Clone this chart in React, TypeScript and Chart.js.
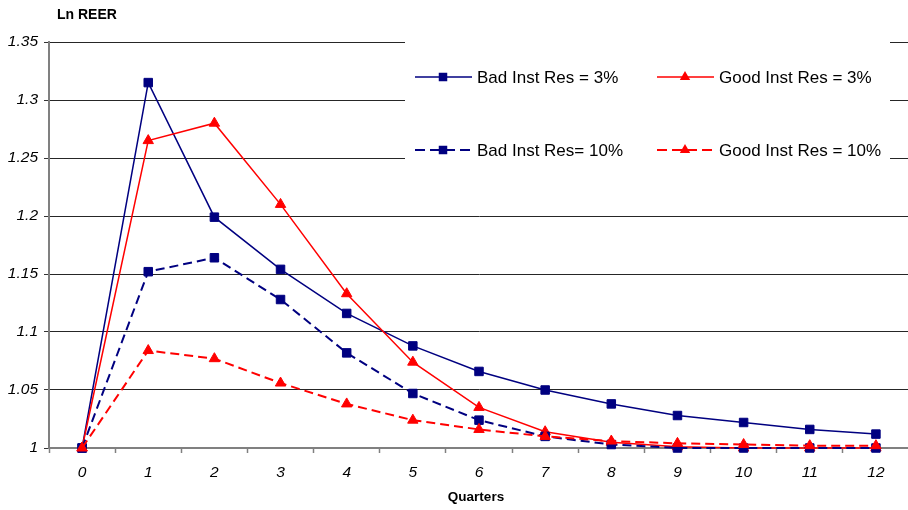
import React, { useEffect, useRef } from 'react';
import { Chart, registerables } from 'chart.js';

Chart.register(...registerables);

const quarters = ['0', '1', '2', '3', '4', '5', '6', '7', '8', '9', '10', '11', '12'];
const badInstRes3 = [1.0, 1.315, 1.199, 1.154, 1.116, 1.088, 1.066, 1.05, 1.038, 1.028, 1.022, 1.016, 1.012];
const goodInstRes3 = [1.0, 1.265, 1.28, 1.21, 1.133, 1.074, 1.035, 1.014, 1.005, 1.001, 1.0, 1.0, 1.0];
const badInstRes10 = [1.0, 1.152, 1.164, 1.128, 1.082, 1.047, 1.024, 1.01, 1.003, 1.0, 1.0, 1.0, 1.0];
const goodInstRes10 = [1.0, 1.084, 1.077, 1.056, 1.038, 1.024, 1.016, 1.01, 1.006, 1.004, 1.003, 1.002, 1.002];
const yTickValues = [1, 1.05, 1.1, 1.15, 1.2, 1.25, 1.3, 1.35];
const seriesLabels = ['Bad Inst Res = 3%', 'Good Inst Res = 3%', 'Bad Inst Res= 10%', 'Good Inst Res = 10%'];
const yAxisTitle = 'Ln REER';
const xAxisTitle = 'Quarters';

const NAVY = '#000080';
const RED = '#FF0000';
const FONT = '"Liberation Sans", Arial, sans-serif';

function drawMarker(ctx: CanvasRenderingContext2D, style: string, x: number, y: number, color: string) {
  ctx.save();
  ctx.setLineDash([]);
  ctx.fillStyle = color;
  ctx.beginPath();
  if (style === 'rect') {
    ctx.rect(x - 4.25, y - 4.25, 8.5, 8.5);
  } else {
    const r = 6;
    ctx.moveTo(x, y - r);
    ctx.lineTo(x + r * 0.866, y + r / 2);
    ctx.lineTo(x - r * 0.866, y + r / 2);
    ctx.closePath();
  }
  ctx.fill();
  ctx.restore();
}

const legendPlugin = {
  id: 'boxLegend',
  afterDraw(chart: any) {
    const ctx: CanvasRenderingContext2D = chart.ctx;
    ctx.save();
    ctx.fillStyle = '#ffffff';
    ctx.fillRect(405, 30, 485, 150);
    const items = [
      { x: 415, y: 77, color: NAVY, dash: [] as number[], w: 1.5, style: 'rect', label: seriesLabels[0] },
      { x: 657, y: 77, color: RED, dash: [] as number[], w: 1.5, style: 'triangle', label: seriesLabels[1] },
      { x: 415, y: 150, color: NAVY, dash: [10, 5], w: 2, style: 'rect', label: seriesLabels[2] },
      { x: 657, y: 150, color: RED, dash: [10, 5], w: 2, style: 'triangle', label: seriesLabels[3] },
    ];
    for (const it of items) {
      ctx.save();
      ctx.strokeStyle = it.color;
      ctx.lineWidth = it.w;
      ctx.setLineDash(it.dash);
      ctx.beginPath();
      ctx.moveTo(it.x, it.y);
      ctx.lineTo(it.x + 57, it.y);
      ctx.stroke();
      ctx.restore();
      drawMarker(ctx, it.style, it.x + 28, it.y, it.color);
      ctx.fillStyle = '#000';
      ctx.font = `17px ${FONT}`;
      ctx.textBaseline = 'middle';
      ctx.textAlign = 'left';
      ctx.fillText(it.label, it.x + 62, it.y + 1);
    }
    // axis titles
    ctx.font = `bold 14px ${FONT}`;
    ctx.textBaseline = 'middle';
    ctx.textAlign = 'left';
    ctx.fillText(yAxisTitle, 57, 15);
    ctx.font = `bold 13.5px ${FONT}`;
    ctx.textAlign = 'center';
    ctx.fillText(xAxisTitle, 476, 497);
    ctx.restore();
  },
};

export default function App() {
  const canvasRef = useRef<HTMLCanvasElement | null>(null);

  useEffect(() => {
    if (!canvasRef.current) return;
    Chart.defaults.font.family = FONT;
    const mk = (label: string, data: number[], color: string, dashed: boolean, style: string, order: number) => ({
      label,
      data,
      borderColor: color,
      backgroundColor: color,
      borderWidth: dashed ? 2 : 1.5,
      borderDash: dashed ? [9, 5] : [],
      pointStyle: style,
      pointRadius: 6,
      pointBorderWidth: 1,
      pointBorderColor: color,
      pointBackgroundColor: color,
      tension: 0,
      clip: false,
      order,
    });
    const chart = new Chart(canvasRef.current, {
      type: 'line',
      data: {
        labels: quarters,
        datasets: [
          mk(seriesLabels[0], badInstRes3, NAVY, false, 'rect', 3),
          mk(seriesLabels[1], goodInstRes3, RED, false, 'triangle', 2),
          mk(seriesLabels[2], badInstRes10, NAVY, true, 'rect', 1),
          mk(seriesLabels[3], goodInstRes10, RED, true, 'triangle', 0),
        ] as any,
      },
      options: {
        animation: false,
        responsive: false,
        layout: { padding: { top: 42, left: 0, right: 0, bottom: 0 } },
        plugins: {
          legend: { display: false },
          tooltip: { enabled: false },
          title: { display: false },
        },
        scales: {
          x: {
            type: 'category',
            offset: true,
            grid: {
              display: true,
              drawOnChartArea: false,
              drawTicks: true,
              tickLength: 5,
              tickColor: '#808080',
              tickWidth: 1.5,
              offset: true,
            },
            border: { display: true, color: '#808080', width: 2 },
            ticks: {
              color: '#000',
              font: { family: FONT, size: 15.5, style: 'italic' },
              padding: 10,
              maxRotation: 0,
              autoSkip: false,
            },
            afterFit: (s: any) => { s.height = 62; },
          },
          y: {
            min: 1,
            max: 1.35,
            afterBuildTicks: (s: any) => { s.ticks = yTickValues.map((v) => ({ value: v })); },
            grid: {
              color: '#262626',
              lineWidth: 1,
              drawTicks: true,
              tickLength: 5,
              tickColor: '#333333',
            },
            border: { display: true, color: '#808080', width: 2 },
            ticks: {
              color: '#000',
              font: { family: FONT, size: 15.5, style: 'italic' },
              padding: 6,
              callback: (v: any) => String(Number(Number(v).toFixed(2))),
            },
            afterFit: (s: any) => { s.width = 49; },
          },
        },
      } as any,
      plugins: [legendPlugin],
    });
    return () => chart.destroy();
  }, []);

  return (
    <div style={{ position: 'fixed', left: 0, top: 0, width: 916, height: 510, background: '#fff' }}>
      <canvas ref={canvasRef} width={916} height={510} style={{ display: 'block' }} />
    </div>
  );
}
